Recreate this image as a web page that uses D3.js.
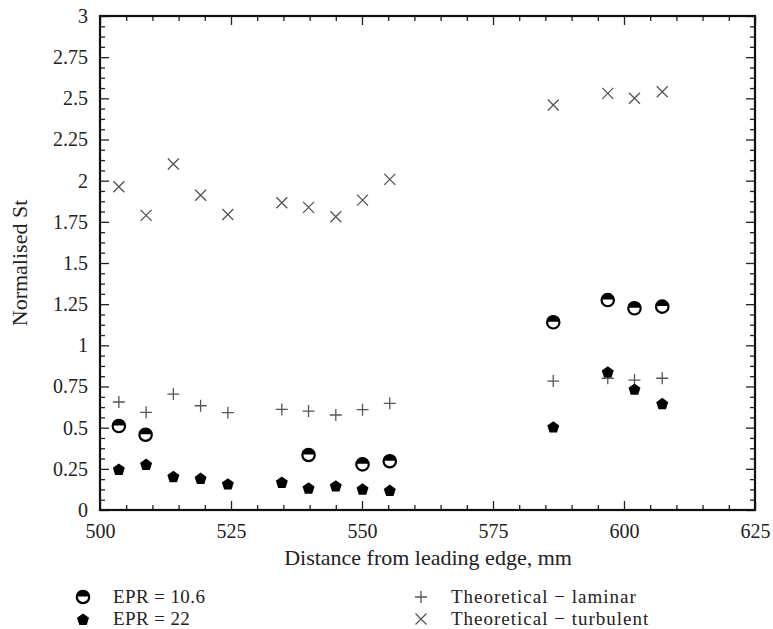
<!DOCTYPE html>
<html>
<head>
<meta charset="utf-8">
<script src="https://cdn.jsdelivr.net/npm/d3@7"></script>
<style>
  body { margin: 0; background: #fff; }
  text { font-family: 'Liberation Serif', serif; fill: #222; }
</style>
</head>
<body>
<script>
// Data (x in mm, y = normalised St)
const xEPR106 = [503.6, 508.7, 539.8, 550.1, 555.3, 586.5, 596.9, 602.0, 607.3]
const yEPR106 = [0.51, 0.457, 0.334, 0.277, 0.296, 1.14, 1.275, 1.225, 1.235]

const xEPR22 = [503.6, 508.8, 514.0, 519.2, 524.4, 534.7, 539.8, 545.0, 550.1, 555.3, 586.5, 596.9, 602.0, 607.3]
const yEPR22 = [0.249, 0.279, 0.205, 0.194, 0.160, 0.170, 0.135, 0.148, 0.129, 0.121, 0.506, 0.840, 0.735, 0.648]

const xTheory = [503.6, 508.8, 514.0, 519.2, 524.4, 534.7, 539.8, 545.0, 550.1, 555.3, 586.5, 596.9, 602.0, 607.3]
const yLaminar = [0.656, 0.593, 0.704, 0.633, 0.591, 0.611, 0.601, 0.577, 0.609, 0.648, 0.783, 0.80, 0.789, 0.80]
const yTurbulent = [1.963, 1.789, 2.101, 1.911, 1.795, 1.866, 1.838, 1.781, 1.882, 2.008, 2.46, 2.53, 2.50, 2.54]

const xTicks = [500, 525, 550, 575, 600, 625]
const yTicks = [0, 0.25, 0.5, 0.75, 1, 1.25, 1.5, 1.75, 2, 2.25, 2.5, 2.75, 3]

const legendItems = [
    { label: 'EPR = 10.6', kind: 'half' },
    { label: 'EPR = 22', kind: 'pent' },
    { label: 'Theoretical \u2212 laminar', kind: 'plus' },
    { label: 'Theoretical \u2212 turbulent', kind: 'times' },
]

const W = 773, H = 629
const margin = { top: 16, right: 18, bottom: 119, left: 100 }
const width = W - margin.left - margin.right
const height = H - margin.top - margin.bottom

const svg = d3.select('body').append('svg')
    .attr('width', W)
    .attr('height', H)

const g = svg.append('g')
    .attr('transform', `translate(${margin.left}, ${margin.top})`)

const xScale = d3.scaleLinear().domain([500, 625]).range([0, width])
const yScale = d3.scaleLinear().domain([0, 3]).range([height, 0])

const xMinor = d3.range(500, 626, 5).filter(v => !xTicks.includes(v))
const yMinor = d3.range(0, 3.001, 0.0625).filter(v => Math.abs(v * 4 - Math.round(v * 4)) > 1e-6)

function styleAxis(sel) {
    sel.select('.domain').remove()
    sel.selectAll('line').attr('stroke', '#222').attr('stroke-width', 1.3)
    sel.selectAll('text')
        .style('font-family', "'Liberation Serif', serif")
        .style('font-size', '20px')
        .attr('fill', '#222')
}

// Bottom axis (ticks pointing inward)
g.append('g')
    .attr('transform', `translate(0, ${height})`)
    .call(d3.axisBottom(xScale).tickValues(xTicks).tickSize(-9).tickPadding(14).tickFormat(d => String(d)))
    .call(styleAxis)
g.append('g')
    .attr('transform', `translate(0, ${height})`)
    .call(d3.axisBottom(xScale).tickValues(xMinor).tickSize(-5).tickFormat(''))
    .call(styleAxis)

// Top axis
g.append('g')
    .call(d3.axisTop(xScale).tickValues(xTicks).tickSize(-9).tickFormat(''))
    .call(styleAxis)
g.append('g')
    .call(d3.axisTop(xScale).tickValues(xMinor).tickSize(-5).tickFormat(''))
    .call(styleAxis)

// Left axis
g.append('g')
    .call(d3.axisLeft(yScale).tickValues(yTicks).tickSize(-9).tickPadding(12).tickFormat(d => String(d)))
    .call(styleAxis)
g.append('g')
    .call(d3.axisLeft(yScale).tickValues(yMinor).tickSize(-5).tickFormat(''))
    .call(styleAxis)

// Right axis
g.append('g')
    .attr('transform', `translate(${width}, 0)`)
    .call(d3.axisRight(yScale).tickValues(yTicks).tickSize(-9).tickFormat(''))
    .call(styleAxis)
g.append('g')
    .attr('transform', `translate(${width}, 0)`)
    .call(d3.axisRight(yScale).tickValues(yMinor).tickSize(-5).tickFormat(''))
    .call(styleAxis)

// Frame
g.append('rect')
    .attr('width', width)
    .attr('height', height)
    .attr('fill', 'none')
    .attr('stroke', '#111')
    .attr('stroke-width', 2.2)

// Axis titles
svg.append('text')
    .attr('x', 428)
    .attr('y', 565)
    .attr('text-anchor', 'middle')
    .style('font-size', '22px')
    .text('Distance from leading edge, mm')

svg.append('text')
    .attr('transform', `translate(27, ${margin.top + yScale(1.5)}) rotate(-90)`)
    .attr('text-anchor', 'middle')
    .style('font-size', '22px')
    .text('Normalised St')

// Marker drawers
const pentPath = (() => {
    const r = 6.3
    const pts = d3.range(5).map(i => {
        const a = -Math.PI / 2 + i * 2 * Math.PI / 5
        return [r * Math.cos(a), r * Math.sin(a) + 0.8]
    })
    return 'M' + pts.map(p => p.join(',')).join('L') + 'Z'
})()

function drawMarker(sel, kind) {
    if (kind === 'half') {
        sel.append('circle').attr('r', 6.2).attr('fill', '#fff').attr('stroke', '#000').attr('stroke-width', 2.2)
        sel.append('path').attr('d', 'M-6.2,-0.6A6.2,6.2 0 0 1 6.2,-0.6Z').attr('fill', '#000')
    } else if (kind === 'pent') {
        sel.append('path').attr('d', pentPath).attr('fill', '#000')
    } else if (kind === 'plus') {
        sel.append('path').attr('d', 'M-6,0H6M0,-6V6').attr('stroke', '#555').attr('stroke-width', 1.3).attr('fill', 'none')
    } else if (kind === 'times') {
        sel.append('path').attr('d', 'M-5.5,-5.5L5.5,5.5M-5.5,5.5L5.5,-5.5').attr('stroke', '#555').attr('stroke-width', 1.3).attr('fill', 'none')
    }
}

function plotSeries(xs, ys, kind) {
    g.append('g').selectAll('g')
        .data(xs.map((x, i) => [x, ys[i]]))
        .join('g')
        .attr('transform', d => `translate(${xScale(d[0])}, ${yScale(d[1])})`)
        .each(function () { drawMarker(d3.select(this), kind) })
}

plotSeries(xTheory, yTurbulent, 'times')
plotSeries(xTheory, yLaminar, 'plus')
plotSeries(xEPR106, yEPR106, 'half')
plotSeries(xEPR22, yEPR22, 'pent')

// Legend
const legend = svg.append('g')
const legendPos = [[83, 597], [83, 619], [421, 597], [421, 619]]
legendItems.forEach((item, i) => {
    const [lx, ly] = legendPos[i]
    const m = legend.append('g').attr('transform', `translate(${lx}, ${ly})`)
    drawMarker(m, item.kind)
    legend.append('text')
        .attr('x', lx + 30)
        .attr('y', ly + 5.5)
        .style('font-size', '19px')
        .style('letter-spacing', i < 2 ? '0.4px' : '1px')
        .text(item.label)
})
</script>
</body>
</html>
